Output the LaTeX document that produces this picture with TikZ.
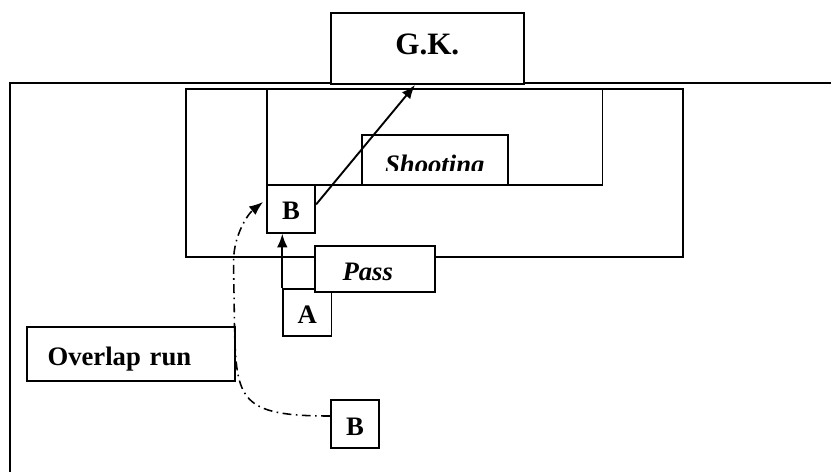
\documentclass[tikz,border=0pt]{standalone}
\usepackage{fontspec}
\setmainfont{Liberation Serif}
\usetikzlibrary{arrows.meta}

\begin{document}
\begin{tikzpicture}
		[x=0.45pt, y=-0.45pt, >={Latex[length=6.2pt,width=4.8pt]}, line width=0.85pt,
		 block/.style = {draw, shape=rectangle, fill=white, anchor=north west,
						font=\fontsize{12}{14}\selectfont\bfseries, text height=10pt, text depth=0pt},
		pblock/.style = {block, minimum width=21.7pt, minimum height=21.5pt, inner sep=0pt},
		tblock/.style = {block, align=left, inner xsep=9.4pt},
		   run/.style = {dash pattern=on 4pt off 2pt on 0.7pt off 2pt, line width=0.7pt},
		]

		\useasboundingbox (0,0) rectangle (831,472);

		% field, penalty area, goal area
		\draw (10,472) -- (10,83.3) -- (831,83.3);
		\draw (186,89) rectangle (683,256.7);
		\draw (266.7,89) rectangle (602.5,185);

		\node [block, minimum width=86.7pt, minimum height=32.1pt, inner sep=0pt,
			   font=\fontsize{14}{17}\selectfont\bfseries,
			   text height=9.3pt, text depth=3.6pt]             (gk)       at (330,11.7)    {G.K.};

		\begin{scope}
			\clip (361.7,135) rectangle (506,170);
			\node [block, draw=none, minimum width=64.9pt, minimum height=21.7pt, inner sep=0pt,
				   font=\fontsize{12}{14}\selectfont\bfseries\itshape, text height=12.1pt] (shooting) at (361.7,135) {Shooting};
		\end{scope}
		\draw (shooting.north west) rectangle (shooting.south east);

		\node [pblock]                                          (playerB)  at (266,184)     {B};
		\node [pblock]                                          (playerA)  at (282.3,287.7) {A};
		\node [tblock, text width=29.3pt, inner xsep=12.3pt, minimum height=20.7pt,
			   font=\fontsize{12}{14}\selectfont\bfseries\itshape] (pass) at (314.3,245)   {Pass};
		\node [tblock, text width=75pt, minimum height=24.3pt] (overlap)  at (25.7,326)    {Overlap run};
		\node [pblock]                                          (runnerB)  at (330,399.3)   {B};

		\coordinate (goal)  at (415,85);
		\coordinate (runin) at (263,202);

		\draw[->] (playerB.10) -- (goal);
		\draw[->] (playerA.north west) -- (playerA.north west |- playerB.south);
		\draw[->, run] (runnerB.162) .. controls (240,416) and (236,400) .. (234.5,326)
			-- (233.5,262) .. controls (233.5,235) and (248,214) .. (runin);

\end{tikzpicture}
\end{document}
